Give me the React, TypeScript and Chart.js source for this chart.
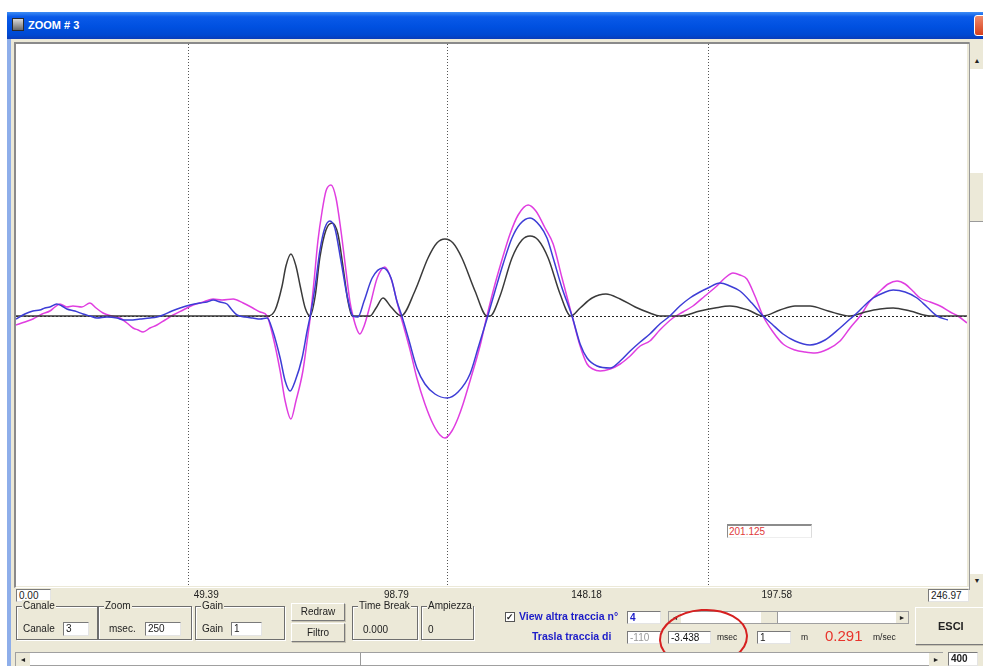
import React, { useEffect, useRef } from "react";
import { Chart, registerables } from "chart.js";
Chart.register(...registerables);

// ---- axis / grid values (ms) ----
const TIME_TICKS = [0.0, 49.39, 98.79, 148.18, 197.58, 246.97];
const GRID_T = [44.7, 111.9, 179.7];
const Y_MIN = -270;
const Y_MAX = 272;

// ---- black trace (synthetic) ----
const BLACK_T = [0, 21.8, 44.7, 65.4, 67.3, 69.1, 70.1, 71.4, 72.7, 73.8, 75.1, 76.4, 77.7, 78.9, 80.5, 82.1, 83.6, 84.9, 86.2, 87.3, 91.9, 93.5, 95.3, 97.4, 100.0, 103.6, 107.0, 109.3, 111.4, 113.5, 115.8, 119.2, 122.3, 123.1, 125.7, 128.8, 131.4, 133.5, 135.6, 138.2, 141.3, 144.1, 146.5, 149.6, 153.2, 156.9, 160.8, 164.6, 167.2, 172.4, 177.6, 181.5, 185.4, 190.1, 194.0, 198.4, 202.3, 206.2, 210.9, 216.6, 220.5, 224.4, 227.8, 232.2, 237.4, 247.0];
const BLACK_A = [0, 0, 0, 0, 6, 30, 50, 62, 50, 30, 8, 0, 20, 58, 86, 93, 82, 50, 15, 0, 0, 8, 18, 9, 0, 25, 58, 73, 77, 73, 58, 25, 0, 0, 20, 58, 76, 80, 76, 58, 22, 0, 8, 18, 22, 17, 9, 3, 0, 0, 5, 8, 10, 6, 0, 6, 10, 10, 5, 0, 4, 7, 8, 5, 0, 0];

// ---- blue trace ----
const BLUE_T = [0, 2.3, 4.4, 6.2, 7.5, 8.8, 10.6, 11.9, 13.2, 15.3, 17.4, 19.2, 21.0, 23.6, 26.2, 28.0, 29.6, 32.2, 34.8, 36.6, 38.2, 40.5, 42.6, 45.2, 47.8, 49.6, 51.2, 53.0, 54.8, 56.1, 57.4, 59.5, 61.5, 63.4, 65.2, 66.7, 68.6, 69.9, 71.2, 72.5, 74.3, 75.6, 76.4, 77.7, 78.9, 80.2, 81.5, 82.8, 84.4, 86.0, 87.5, 88.8, 90.4, 92.5, 95.3, 97.4, 98.9, 100.2, 102.1, 104.1, 106.2, 108.8, 111.9, 114.8, 117.9, 120.0, 122.3, 124.4, 126.5, 128.8, 130.9, 133.5, 136.1, 137.9, 139.5, 141.8, 144.4, 146.5, 148.3, 150.9, 154.3, 156.9, 159.5, 162.1, 164.6, 167.2, 169.8, 172.4, 175.0, 177.6, 179.7, 182.8, 185.4, 188.0, 191.1, 194.0, 196.3, 199.2, 202.3, 206.2, 210.1, 214.0, 216.6, 218.4, 220.5, 222.6, 225.2, 227.8, 230.9, 234.0, 236.6, 239.2, 242.0];
const BLUE_A = [-3, 2, 5, 6, 8, 9, 12, 10, 7, 5, 2, 0, -2, -1, -2, -4, -4, -3, -2, -1, 1, 5, 8, 11, 13, 14, 16, 14, 12, 6, 1, -1, -2, -3, -2, -15, -42, -65, -75, -65, -42, -15, 0, 30, 65, 88, 95, 88, 55, 20, 0, -1, 15, 38, 48, 38, 15, 0, -25, -52, -68, -78, -82, -76, -58, -32, -3, 25, 52, 78, 92, 98, 90, 78, 58, 28, 0, -28, -42, -50, -52, -45, -35, -26, -18, -8, 0, 10, 18, 24, 28, 33, 30, 25, 13, 0, -8, -18, -25, -29, -24, -12, -3, 3, 11, 18, 23, 26, 24, 18, 9, 0, -4];

// ---- magenta trace ----
const MAG_T = [0, 2.3, 4.4, 6.8, 8.8, 10.1, 11.4, 13.2, 14.8, 17.1, 19.2, 20.8, 22.6, 24.9, 27.0, 28.8, 30.4, 31.7, 33.0, 34.8, 36.6, 38.7, 40.8, 43.4, 46.0, 48.6, 51.2, 53.5, 56.4, 59.0, 61.5, 63.4, 65.2, 66.7, 68.6, 69.9, 71.4, 72.7, 74.5, 75.6, 76.4, 77.4, 78.4, 79.5, 80.5, 81.8, 83.1, 84.4, 85.7, 86.7, 87.5, 88.6, 89.3, 90.4, 91.9, 93.8, 95.8, 97.6, 98.9, 99.7, 101.0, 102.6, 104.1, 106.2, 108.3, 110.1, 111.4, 113.2, 114.8, 116.1, 117.9, 120.5, 122.3, 124.4, 126.5, 128.3, 130.4, 133.0, 135.0, 137.4, 139.5, 141.8, 144.4, 146.5, 148.3, 149.8, 151.7, 154.3, 156.9, 159.5, 162.1, 164.6, 167.2, 170.6, 173.2, 175.8, 178.9, 182.0, 184.1, 186.2, 188.0, 189.8, 191.9, 194.0, 196.6, 199.2, 202.3, 204.9, 207.5, 210.9, 214.0, 216.6, 219.2, 221.8, 224.4, 226.5, 228.8, 230.9, 232.9, 234.8, 237.4, 240.0, 242.6, 244.6, 247.0];
const MAG_A = [-9, -6, -3, 2, 5, 9, 12, 9, 10, 9, 13, 8, 3, 0, -2, -7, -12, -14, -16, -12, -9, -4, 1, 6, 11, 14, 17, 16, 17, 13, 8, 4, 0, -20, -55, -85, -103, -85, -55, -25, -2, 35, 75, 105, 125, 131, 118, 85, 45, 15, 0, -14, -18, -10, 10, 38, 49, 35, 15, 3, -15, -38, -62, -88, -108, -119, -122, -115, -102, -88, -65, -30, 0, 32, 60, 82, 101, 111, 105, 88, 72, 38, 0, -30, -48, -53, -55, -53, -48, -40, -30, -25, -14, -2, 4, 10, 20, 30, 38, 43, 41, 37, 20, 0, -16, -28, -34, -36, -37, -33, -25, -12, 0, 15, 25, 32, 35, 32, 25, 18, 14, 10, 4, 0, -7];

const toXY = (t: number[], a: number[]) => t.map((v, i) => ({ x: v, y: a[i] }));

const plotDecor = {
  id: "plotDecor",
  beforeDraw(chart: any) {
    const { ctx, chartArea: a } = chart;
    ctx.save();
    ctx.fillStyle = "#ffffff";
    ctx.fillRect(a.left, a.top, a.right - a.left, a.bottom - a.top);
    ctx.restore();
  },
  beforeDatasetsDraw(chart: any) {
    const { ctx, chartArea: a, scales } = chart;
    ctx.save();
    ctx.lineWidth = 1;
    ctx.strokeStyle = "#555555";
    ctx.setLineDash([1, 2]);
    GRID_T.forEach((t) => {
      const x = Math.round(scales.x.getPixelForValue(t)) + 0.5;
      ctx.beginPath();
      ctx.moveTo(x, a.top);
      ctx.lineTo(x, a.bottom);
      ctx.stroke();
    });
    ctx.strokeStyle = "#222222";
    ctx.setLineDash([2, 2]);
    const y0 = Math.round(scales.y.getPixelForValue(0)) + 0.5;
    ctx.beginPath();
    ctx.moveTo(a.left, y0);
    ctx.lineTo(a.right, y0);
    ctx.stroke();
    ctx.restore();
  },
};

const GREY = "#ece9d8";
const FONT = "'Liberation Sans', Arial, sans-serif";

const abs = (l: number, t: number, w?: number, h?: number, extra: any = {}) => ({
  position: "absolute" as const,
  left: l,
  top: t,
  width: w,
  height: h,
  boxSizing: "border-box" as const,
  ...extra,
});

const inputBox = (l: number, t: number, w: number, h: number, text: string, extra: any = {}) => (
  <div
    style={abs(l, t, w, h, {
      background: "#fff",
      borderTop: "1px solid #7a7a7a",
      borderLeft: "1px solid #7a7a7a",
      borderRight: "1px solid #e4e4e4",
      borderBottom: "1px solid #e4e4e4",
      fontSize: 10,
      lineHeight: `${h - 2}px`,
      paddingLeft: 2,
      whiteSpace: "nowrap",
      overflow: "hidden",
      ...extra,
    })}
  >
    {text}
  </div>
);

const group = (l: number, t: number, w: number, h: number, legend: string, children: any) => (
  <div
    style={abs(l, t, w, h, {
      border: "1px solid #6e6e6e",
      boxShadow: "inset 1px 1px 0 #ffffff, 1px 1px 0 #ffffff",
    })}
  >
    <span
      style={{
        position: "absolute",
        left: 5,
        top: -7,
        background: GREY,
        padding: "0 1px",
        fontSize: 10,
        lineHeight: "12px",
        color: "#222",
      }}
    >
      {legend}
    </span>
    {children}
  </div>
);

const button = (l: number, t: number, w: number, h: number, text: string, extra: any = {}) => (
  <div
    style={abs(l, t, w, h, {
      background: GREY,
      borderTop: "1px solid #ffffff",
      borderLeft: "1px solid #ffffff",
      borderRight: "1px solid #7a7a7a",
      borderBottom: "1px solid #7a7a7a",
      boxShadow: "1px 1px 0 #c8c4b4",
      textAlign: "center",
      fontSize: 10,
      lineHeight: `${h - 2}px`,
      color: "#222",
      ...extra,
    })}
  >
    {text}
  </div>
);

export default function App() {
  const ref = useRef<HTMLCanvasElement | null>(null);

  useEffect(() => {
    if (!ref.current) return;
    const chart = new Chart(ref.current, {
      type: "line",
      data: {
        datasets: [
          {
            label: "Traccia 3",
            data: toXY(BLUE_T, BLUE_A),
            borderColor: "#3d3dd6",
            borderWidth: 1.5,
            pointRadius: 0,
            cubicInterpolationMode: "monotone",
          },
          {
            label: "Sorgente",
            data: toXY(BLACK_T, BLACK_A),
            borderColor: "#3a3a3a",
            borderWidth: 1.5,
            pointRadius: 0,
            cubicInterpolationMode: "monotone",
          },
          {
            label: "Traccia 4",
            data: toXY(MAG_T, MAG_A),
            borderColor: "#e03ee0",
            borderWidth: 1.5,
            pointRadius: 0,
            cubicInterpolationMode: "monotone",
          },
        ],
      },
      options: {
        animation: false,
        responsive: false,
        maintainAspectRatio: false,
        layout: { padding: 0 },
        plugins: { legend: { display: false }, tooltip: { enabled: false } },
        scales: {
          x: {
            type: "linear",
            min: TIME_TICKS[0],
            max: TIME_TICKS[TIME_TICKS.length - 1],
            grid: { display: false, drawTicks: false, tickLength: 0 },
            border: { display: false },
            ticks: {
              autoSkip: false,
              maxRotation: 0,
              padding: 3,
              color: "#222",
              font: { family: FONT, size: 10 },
              callback: (v: any) => Number(v).toFixed(2),
            },
            afterBuildTicks: (scale: any) => {
              scale.ticks = TIME_TICKS.slice(1, -1).map((v) => ({ value: v }));
            },
            afterFit: (scale: any) => {
              scale.height = 17;
            },
          },
          y: { type: "linear", display: false, min: Y_MIN, max: Y_MAX },
        },
      },
      plugins: [plotDecor],
    } as any);
    return () => chart.destroy();
  }, []);

  return (
    <div
      style={{
        position: "fixed",
        left: 0,
        top: 0,
        width: 983,
        height: 666,
        overflow: "hidden",
        background: "#ffffff",
        fontFamily: FONT,
        color: "#222",
      }}
    >
      {/* window body */}
      <div style={abs(7, 12, 990, 660, { background: GREY, borderLeft: "4px solid #8eaeea" })} />
      {/* title bar */}
      <div
        style={abs(7, 12, 990, 27, {
          background: "linear-gradient(to bottom, #3d8df5 0%, #0a5ae8 18%, #0050e0 55%, #0049d2 85%, #0a3cb8 100%)",
        })}
      />
      <div
        style={abs(12, 18, 12, 13, {
          background: "linear-gradient(#d8d8d8, #6a6a6a)",
          border: "1px solid #2a2a2a",
        })}
      />
      <div style={abs(28, 18, 120, 14, { color: "#fff", fontWeight: "bold", fontSize: 11, lineHeight: "14px" })}>
        ZOOM # 3
      </div>
      <div
        style={abs(974, 15, 22, 21, {
          background: "linear-gradient(#f08a6a, #d6401c)",
          border: "1px solid #fff",
          borderRadius: 3,
        })}
      />

      {/* plot frame */}
      <div
        style={abs(14, 42, 956, 546, {
          borderTop: "2px solid #8a8a8a",
          borderLeft: "2px solid #8a8a8a",
          borderRight: "1px solid #ffffff",
          borderBottom: "1px solid #ffffff",
        })}
      />
      <canvas ref={ref} width={951} height={559} style={{ position: "absolute", left: 16, top: 44, width: 951, height: 559 }} />

      {/* value box inside plot */}
      <div
        style={abs(727, 524, 85, 14, {
          background: "#fff",
          borderTop: "2px solid #8c8c8c",
          borderLeft: "1px solid #8c8c8c",
          borderRight: "1px solid #dcdcdc",
          borderBottom: "1px solid #eeeeee",
          color: "#e03a3a",
          fontSize: 10,
          lineHeight: "11px",
          paddingLeft: 1,
        })}
      >
        201.125
      </div>

      {/* right vertical scrollbar */}
      <div style={abs(969, 43, 14, 547, { background: "#fff", borderLeft: "1px solid #9a9a9a" })} />
      <div style={abs(970, 43, 14, 26, { background: GREY, fontSize: 7, textAlign: "center", lineHeight: "36px" })}>▲</div>
      <div style={abs(970, 172, 14, 50, { background: GREY, borderTop: "1px solid #fff", borderBottom: "1px solid #9a9a9a" })} />
      <div style={abs(970, 574, 14, 16, { background: GREY, fontSize: 7, textAlign: "center", lineHeight: "14px" })}>▼</div>

      {/* end labels of time axis */}
      {inputBox(16, 589, 35, 13, TIME_TICKS[0].toFixed(2), { lineHeight: "11px" })}
      {inputBox(928, 589, 41, 13, TIME_TICKS[TIME_TICKS.length - 1].toFixed(2), { lineHeight: "11px" })}

      {/* group boxes */}
      {group(16, 606, 82, 34, "Canale", (
        <>
          <span style={abs(6, 16, 40, 12, { fontSize: 10 })}>Canale</span>
          {inputBox(46, 15, 26, 14, "3")}
        </>
      ))}
      {group(98, 606, 94, 34, "Zoom", (
        <>
          <span style={abs(10, 16, 40, 12, { fontSize: 10 })}>msec.</span>
          {inputBox(46, 15, 36, 14, "250")}
        </>
      ))}
      {group(195, 606, 90, 34, "Gain", (
        <>
          <span style={abs(6, 16, 40, 12, { fontSize: 10 })}>Gain</span>
          {inputBox(35, 15, 31, 14, "1")}
        </>
      ))}
      {button(291, 603, 54, 18, "Redraw")}
      {button(291, 623, 54, 19, "Filtro")}
      {group(352, 606, 66, 34, "Time Break", (
        <span style={abs(10, 17, 50, 12, { fontSize: 10 })}>0.000</span>
      ))}
      {group(421, 606, 53, 34, "Ampiezza", (
        <span style={abs(6, 17, 30, 12, { fontSize: 10 })}>0</span>
      ))}

      {/* view other trace */}
      <div
        style={abs(505, 612, 10, 10, {
          background: "#fff",
          border: "1px solid #555",
          fontSize: 9,
          lineHeight: "8px",
          textAlign: "center",
          fontWeight: "bold",
        })}
      >
        ✓
      </div>
      <div style={abs(519, 610, 110, 13, { color: "#1c1cc8", fontWeight: "bold", fontSize: 10.5, whiteSpace: "nowrap" })}>
        View altra traccia n°
      </div>
      {inputBox(627, 611, 34, 13, "4", { color: "#1c1cc8", fontWeight: "bold" })}
      {/* slider */}
      <div style={abs(668, 611, 241, 13, { background: "#fff", border: "1px solid #a0a0a0" })} />
      <div style={abs(669, 612, 12, 11, { background: GREY, fontSize: 7, lineHeight: "11px", textAlign: "center" })}>◄</div>
      <div style={abs(760, 612, 18, 11, { background: GREY, borderRight: "1px solid #9a9a9a", borderLeft: "1px solid #fff" })} />
      <div style={abs(896, 612, 12, 11, { background: GREY, fontSize: 7, lineHeight: "11px", textAlign: "center" })}>►</div>

      <div style={abs(532, 630, 90, 13, { color: "#1c1cc8", fontWeight: "bold", fontSize: 10.5, whiteSpace: "nowrap" })}>
        Trasla traccia di
      </div>
      {inputBox(627, 631, 34, 13, "-110", { color: "#9a9a9a" })}
      {inputBox(668, 631, 43, 13, "-3.438", { color: "#111" })}
      <span style={abs(717, 632, 30, 12, { fontSize: 8.5 })}>msec</span>
      {inputBox(757, 631, 34, 13, "1")}
      <span style={abs(801, 632, 10, 12, { fontSize: 8.5 })}>m</span>
      <span style={abs(825, 627, 45, 18, { fontSize: 15, color: "#e8342c", lineHeight: "18px" })}>0.291</span>
      <span style={abs(873, 632, 30, 12, { fontSize: 8.5 })}>m/sec</span>
      {button(915, 607, 72, 38, "ESCI", { fontWeight: "bold", fontSize: 11, textAlign: "left", paddingLeft: 22 })}

      {/* highlight ellipse */}
      <svg style={{ position: "absolute", left: 0, top: 0 }} width={983} height={666}>
        <ellipse cx={703.5} cy={638} rx={43.5} ry={28} fill="none" stroke="#d62020" strokeWidth={2} transform="rotate(-4 703.5 638)" />
      </svg>

      {/* bottom horizontal scrollbar */}
      <div style={abs(15, 652, 928, 14, { background: "#fff", border: "1px solid #a0a0a0" })} />
      <div style={abs(16, 653, 14, 13, { background: GREY, fontSize: 7, lineHeight: "13px", textAlign: "center" })}>◄</div>
      <div style={abs(360, 653, 1, 13, { background: "#9a9a9a" })} />
      <div style={abs(929, 653, 14, 13, { background: GREY, fontSize: 7, lineHeight: "13px", textAlign: "center" })}>►</div>
      {inputBox(948, 652, 30, 14, "400", { fontWeight: "bold", lineHeight: "12px" })}
    </div>
  );
}
